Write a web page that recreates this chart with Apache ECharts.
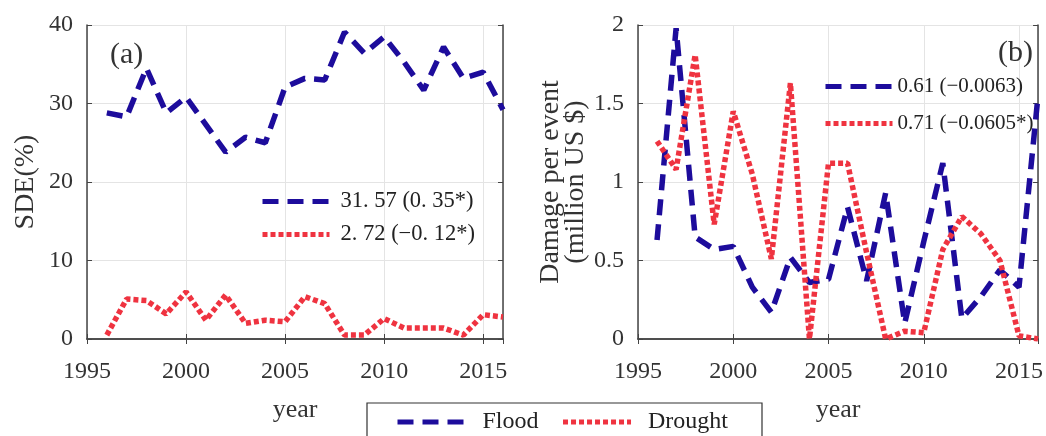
<!DOCTYPE html>
<html>
<head>
<meta charset="utf-8">
<script src="https://cdn.jsdelivr.net/npm/echarts@6/dist/echarts.min.js"></script>
<style>
  html, body { margin: 0; padding: 0; background: #fff; }
  #chart { width: 1046px; height: 436px; }
</style>
</head>
<body>
<div id="chart"></div>
<script>
// years shown on both panels
const years = [1996, 1997, 1998, 1999, 2000, 2001, 2002, 2003, 2004, 2005, 2006,
  2007, 2008, 2009, 2010, 2011, 2012, 2013, 2014, 2015, 2016];
// (a) SDE (%)
const sdeFlood = [28.8, 28.3, 34.5, 28.8, 30.8, 27.3, 23.8, 25.7, 25.0, 32.1, 33.2,
  33.0, 39.1, 36.4, 38.5, 35.3, 31.7, 37.2, 33.2, 34.0, 29.2];
const sdeDrought = [0.5, 5.1, 4.9, 3.2, 6.0, 2.4, 5.6, 2.0, 2.4, 2.2, 5.4,
  4.5, 0.5, 0.5, 2.6, 1.4, 1.4, 1.4, 0.5, 3.1, 2.8];
// (b) damage per event (million US $)
const dmgFlood = [0.63, 1.98, 0.65, 0.57, 0.59, 0.33, 0.17, 0.52, 0.36, 0.38, 0.84,
  0.37, 0.93, 0.10, 0.62, 1.12, 0.13, 0.27, 0.44, 0.33, 1.55];
const dmgDrought = [1.26, 1.08, 1.81, 0.73, 1.45, 1.05, 0.51, 1.63, 0.0, 1.12, 1.12,
  0.55, 0.0, 0.05, 0.04, 0.57, 0.78, 0.67, 0.5, 0.02, 0.0];
const xTicks = [1995, 2000, 2005, 2010, 2015];
const legendA = { Flood: '31. 57 (0. 35*)', Drought: '2. 72 (\u22120. 12*)' };
const legendB = { Flood: '0.61 (\u22120.0063)', Drought: '0.71 (\u22120.0605*)' };

const FONT = "'Liberation Serif', 'Times New Roman', serif";
const BLUE = '#1d0c9c';
const RED = '#ef3340';
const AXIS = '#444';

const pairs = (vals) => years.map((y, i) => [y, vals[i]]);

function xAxisMain(grid, max) {
  return {
    type: 'value', gridIndex: grid, min: xTicks[0], max: max, interval: 5,
    name: 'year', nameLocation: 'middle', nameGap: 58,
    nameTextStyle: { fontFamily: FONT, fontSize: 26, color: '#333' },
    axisLine: { lineStyle: { color: AXIS, width: 1.5 } },
    axisTick: { inside: true, length: 5, lineStyle: { color: AXIS } },
    axisLabel: { fontFamily: FONT, fontSize: 24, color: '#333', margin: 21, showMaxLabel: false,
      formatter: (v) => String(v) },
    splitLine: { show: true, lineStyle: { color: '#e4e4e4' } }
  };
}
function xAxisTop(grid, max) {
  return {
    type: 'value', gridIndex: grid, position: 'top', min: xTicks[0], max: max, interval: 5,
    axisLine: { lineStyle: { color: AXIS, width: 1.5 } },
    axisTick: { inside: true, length: 5, lineStyle: { color: AXIS } },
    axisLabel: { show: false }, splitLine: { show: false }
  };
}
function yAxisMain(grid, max, interval, name, gap) {
  return {
    type: 'value', gridIndex: grid, min: 0, max: max, interval: interval,
    name: name, nameLocation: 'middle', nameGap: gap,
    nameTextStyle: { fontFamily: FONT, fontSize: 28, color: '#333', lineHeight: 25 },
    axisLine: { show: true, lineStyle: { color: AXIS, width: 1.5 } },
    axisTick: { show: true, inside: true, length: 5, lineStyle: { color: AXIS } },
    axisLabel: { fontFamily: FONT, fontSize: 24, color: '#333', margin: 14 },
    splitLine: { show: true, lineStyle: { color: '#e4e4e4' } }
  };
}
function yAxisRight(grid, max, interval) {
  return {
    type: 'value', gridIndex: grid, position: 'right', min: 0, max: max, interval: interval,
    axisLine: { show: true, lineStyle: { color: AXIS, width: 1.5 } },
    axisTick: { show: true, inside: true, length: 5, lineStyle: { color: AXIS } },
    axisLabel: { show: false }, splitLine: { show: false }
  };
}
function lineSeries(name, color, type, x, y, vals) {
  return {
    name: name, type: 'line', xAxisIndex: x, yAxisIndex: y, data: pairs(vals),
    symbol: 'none', animation: false,
    itemStyle: { color: color },
    lineStyle: { color: color, width: 5.5, type: type }
  };
}
const DASH = [16, 9];
const DOT = [5, 3];

const legendCommon = {
  padding: 0, itemHeight: 14,
  itemStyle: { opacity: 0 },
  lineStyle: { width: 5 }
};

const chart = echarts.init(document.getElementById('chart'));
chart.setOption({
  backgroundColor: '#fff',
  title: [
    { text: '(a)', left: 110, top: 40, padding: 0, textStyle: { fontFamily: FONT, fontSize: 30, fontWeight: 'normal', color: '#333' } },
    { text: '(b)', left: 998, top: 38, padding: 0, textStyle: { fontFamily: FONT, fontSize: 30, fontWeight: 'normal', color: '#333' } }
  ],
  grid: [
    { left: 87, right: 543, top: 25, bottom: 97 },
    { left: 638, right: -5, top: 25, bottom: 97 }
  ],
  xAxis: [xAxisMain(0, 2016), xAxisTop(0, 2016), xAxisMain(1, 2016), xAxisTop(1, 2016)],
  yAxis: [
    yAxisMain(0, 40, 10, 'SDE(%)', 49), yAxisRight(0, 40, 10),
    yAxisMain(1, 2, 0.5, 'Damage per event\n(million US $)', 48), yAxisRight(1, 2, 0.5)
  ],
  legend: [
    Object.assign({}, legendCommon, {
      data: ['Flood', 'Drought'], left: 395, top: 410,
      itemWidth: 68, itemGap: 22,
      textStyle: { fontFamily: FONT, fontSize: 24, color: '#222', padding: [0, 0, 0, 12] }
    }),
    Object.assign({}, legendCommon, {
      data: ['Flood', 'Drought'], orient: 'vertical', left: 260, top: 190,
      itemWidth: 67, itemGap: 10,
      formatter: (n) => legendA[n],
      textStyle: { fontFamily: FONT, fontSize: 22.5, color: '#222', padding: [0, 0, 0, 6] }
    }),
    Object.assign({}, legendCommon, {
      data: ['Flood', 'Drought'], orient: 'vertical', left: 823, top: 76,
      itemWidth: 67, itemGap: 16,
      formatter: (n) => legendB[n],
      textStyle: { fontFamily: FONT, fontSize: 21, color: '#222' }
    })
  ],
  graphic: [
    { type: 'rect', shape: { x: 367, y: 403, width: 395, height: 60 },
      style: { fill: 'none', stroke: '#333', lineWidth: 1.2 }, silent: true }
  ],
  series: [
    lineSeries('Flood', BLUE, DASH, 0, 0, sdeFlood),
    lineSeries('Drought', RED, DOT, 0, 0, sdeDrought),
    lineSeries('Flood', BLUE, DASH, 2, 2, dmgFlood),
    lineSeries('Drought', RED, DOT, 2, 2, dmgDrought)
  ]
});
</script>
</body>
</html>
